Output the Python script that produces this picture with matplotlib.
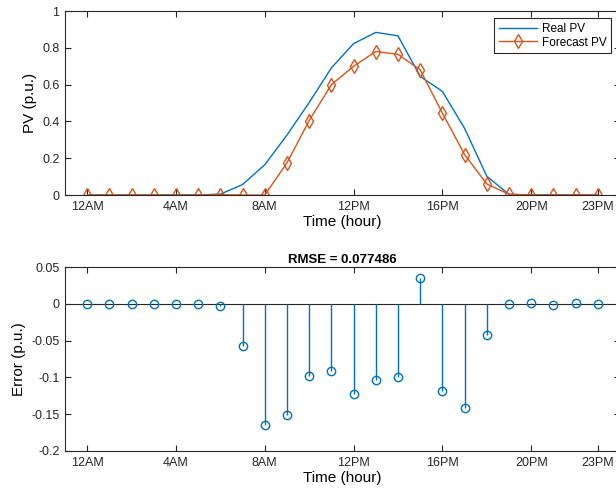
import numpy as np
import matplotlib.pyplot as plt

plt.rcParams['font.family'] = ['Liberation Sans', 'DejaVu Sans']

hours = np.arange(24)
real_pv = [0, 0, 0, 0, 0, 0, 0.005, 0.057, 0.165, 0.326, 0.503, 0.691, 0.823, 0.884,
           0.865, 0.645, 0.563, 0.362, 0.102, 0.004, 0, 0.001, 0, 0]
forecast_pv = [0, 0, 0, 0, 0, 0, 0.002, 0, 0, 0.175, 0.405, 0.600, 0.700, 0.780,
               0.765, 0.680, 0.445, 0.220, 0.060, 0.004, 0.001, 0, 0.001, 0]
tick_hours = [0, 4, 8, 12, 16, 20, 23]
tick_labels = ['12AM', '4AM', '8AM', '12PM', '16PM', '20PM', '23PM']
rmse_text = 'RMSE = 0.077486'

blue = '#0072BD'
orange = '#D95319'
axcol = '#262626'

# error = forecast - real
error = np.array(forecast_pv) - np.array(real_pv)

fig = plt.figure(figsize=(6.16, 4.95), dpi=100)
ax1 = fig.add_axes([0.1055, 0.606, 0.901, 0.3717])
ax2 = fig.add_axes([0.1055, 0.0889, 0.901, 0.3717])

ax1.plot(hours, real_pv, color=blue, lw=1, label='Real PV')
ax1.plot(hours, forecast_pv, color=orange, lw=1, marker='d',
         markersize=7.5, markerfacecolor='none', markeredgewidth=1, label='Forecast PV')
ax1.set_ylim(0, 1)
ax1.set_yticks([0, 0.2, 0.4, 0.6, 0.8, 1])
ax1.set_yticklabels(['0', '0.2', '0.4', '0.6', '0.8', '1'])
ax1.set_ylabel('PV (p.u.)', fontsize=11)
leg = ax1.legend(loc='upper right', bbox_to_anchor=(0.984, 0.962), borderaxespad=0,
                 fontsize=8.5, frameon=True, fancybox=False, edgecolor=axcol,
                 framealpha=1, handlelength=3.2, borderpad=0.4, labelspacing=0.15,
                 handletextpad=0.4)
leg.get_frame().set_linewidth(0.8)

ml, sl, bl = ax2.stem(hours, error, basefmt=' ')
plt.setp(sl, color=blue, linewidth=1)
plt.setp(ml, color=blue, markerfacecolor='none', markersize=6, markeredgewidth=1)
ax2.axhline(0, color=axcol, lw=0.8, zorder=0)
ax2.set_ylim(-0.2, 0.05)
ax2.set_yticks([-0.2, -0.15, -0.1, -0.05, 0, 0.05])
ax2.set_yticklabels(['-0.2', '-0.15', '-0.1', '-0.05', '0', '0.05'])
ax2.set_ylabel('Error (p.u.)', fontsize=11)
ax2.set_title(rmse_text, fontsize=9.5, fontweight='bold', pad=3)

for ax in (ax1, ax2):
    ax.set_xlim(-1, 24)
    ax.set_xticks(tick_hours)
    ax.set_xticklabels(tick_labels)
    ax.set_xlabel('Time (hour)', fontsize=11, labelpad=2)
    ax.tick_params(direction='in', top=True, right=True, length=4, width=0.8,
                   labelsize=9, colors=axcol, pad=4)
    for s in ax.spines.values():
        s.set_color(axcol)
        s.set_linewidth(0.8)

fig.savefig('out.png', dpi=100)
